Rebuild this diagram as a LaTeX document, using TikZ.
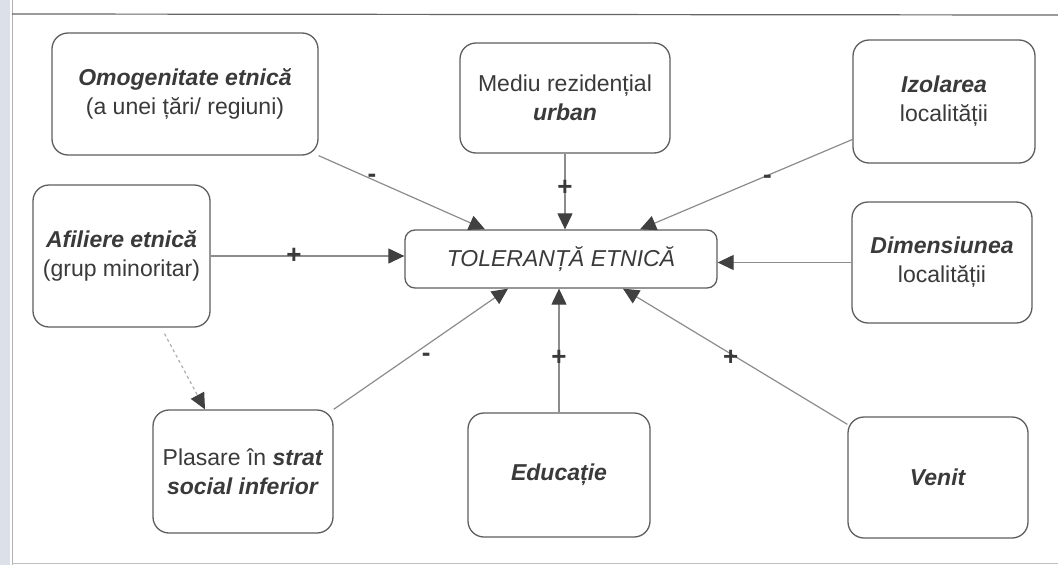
\documentclass[tikz,border=0pt]{standalone}
\usepackage{fontspec}
\setmainfont{Liberation Sans}
\usetikzlibrary{arrows.meta,calc}
\definecolor{boxline}{HTML}{5E5E5E}
\definecolor{connline}{HTML}{8C8C8C}
\definecolor{tipcol}{HTML}{404040}
\definecolor{txt}{HTML}{3A3A3A}
\definecolor{edge}{HTML}{DCE0E8}
\begin{document}
\begin{tikzpicture}[x=1pt,y=-1pt,
  box/.style={draw=boxline, line width=1.3pt, rounded corners=16pt, fill=white,
    inner sep=0pt, align=center, text=txt,
    font=\fontsize{23}{29}\selectfont},
  conn/.style={draw=connline, line width=1.2pt,
    -{Triangle[length=16pt,width=15pt,fill=tipcol,color=tipcol]}},
  sign/.style={font=\fontsize{26}{26}\selectfont\bfseries, text=txt, inner sep=0pt}
]
\useasboundingbox (0,0) rectangle (1058,565);
\fill[white] (0,0) rectangle (1058,565);
\fill[edge] (0,0) rectangle (10,565);
\draw[gray!60, line width=1pt] (12,0) -- (12,565);
\draw[gray!80!black, line width=1.2pt] (12,14) -- (1058,15);
\draw[gray!50, line width=1pt] (12,563) -- (1058,563);

\node[box, minimum width=266pt, minimum height=122pt] (omo) at (185,94)
  {\textbf{\textit{Omogenitate etnică}}\\(a unei țări/ regiuni)};
\node[box, minimum width=210pt, minimum height=110pt] (med) at (565,98)
  {Mediu rezidențial\\\textbf{\textit{urban}}};
\node[box, minimum width=182pt, minimum height=123pt] (izo) at (944,101.5)
  {\textbf{\textit{Izolarea}}\\localității};
\node[box, minimum width=180pt, minimum height=121pt] (dim) at (942,262.5)
  {\textbf{\textit{Dimensiunea}}\\localității};
\node[box, rounded corners=10pt, minimum width=312pt, minimum height=58pt] (tol) at (561,259)
  {\textit{TOLERANȚĂ ETNICĂ}};
\node[box, minimum width=177pt, minimum height=142pt] (afi) at (121.5,256)
  {\textbf{\textit{Afiliere etnică}}\\(grup minoritar)};
\node[box, minimum width=180pt, minimum height=123pt] (pla) at (243,471.5)
  {Plasare în \textbf{\textit{strat}}\\\textbf{\textit{social inferior}}};
\node[box, minimum width=182pt, minimum height=124pt] (edu) at (559,475)
  {\textbf{\textit{Educație}}};
\node[box, minimum width=180pt, minimum height=121pt] (ven) at (938,477.5)
  {\textbf{\textit{Venit}}};

\draw[conn] (omo.south east) -- ([xshift=-76pt]tol.north)
  node[sign, pos=0.32, yshift=1pt] (s1) {-};
\draw[conn] (med.south) -- (med.south |- tol.north)
  node[sign, pos=0.45] (s2) {+};
\draw[conn] ([yshift=-38pt]izo.west) -- ([xshift=79pt]tol.north)
  node[sign, pos=0.4, yshift=-4pt] (s3) {-};
\draw[conn] (dim.west) -- (dim.west -| tol.east);
\draw[conn] (afi.east) -- (afi.east -| tol.west)
  node[sign, pos=0.43] (s4) {+};
\draw[conn, draw=connline!70, dashed] ([xshift=43pt,yshift=-6pt]afi.south) -- ([xshift=-38pt]pla.north);
\draw[conn] (pla.north east) -- ([xshift=-53pt]tol.south)
  node[sign, pos=0.45, xshift=14pt, yshift=-2pt] (s5) {-};
\draw[conn] (edu.north) -- (edu.north |- tol.south)
  node[sign, pos=0.44] (s6) {+};
\draw[conn] ([yshift=-8pt]ven.north west) -- ([xshift=62pt]tol.south)
  node[sign, pos=0.52, yshift=-4pt] (s7) {+};
\end{tikzpicture}
\end{document}
